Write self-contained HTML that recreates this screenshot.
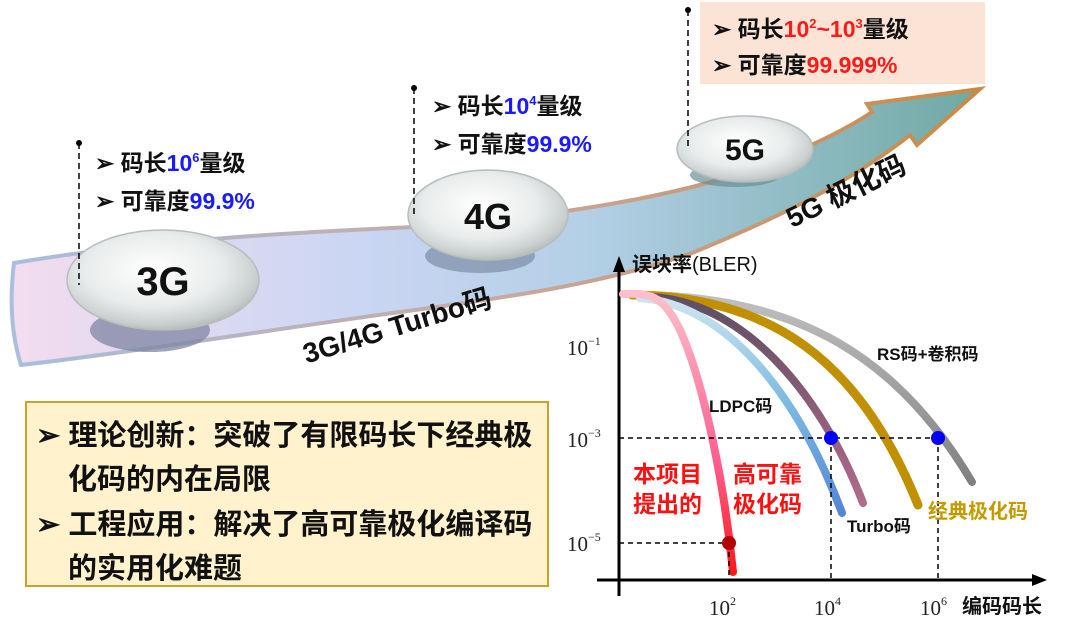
<!DOCTYPE html>
<html><head><meta charset="utf-8"><style>
html,body{margin:0;padding:0;background:#fff;}
svg{display:block;font-family:"Liberation Sans","Noto Sans CJK SC",sans-serif;}
</style></head><body>
<svg width="1080" height="633" viewBox="0 0 1080 633" xmlns="http://www.w3.org/2000/svg">
<defs>
<linearGradient id="band" x1="0" y1="0" x2="1" y2="0">
<stop offset="0" stop-color="#f3dcef"/><stop offset="0.35" stop-color="#cbd6f3"/><stop offset="0.6" stop-color="#b3cfe6"/><stop offset="1" stop-color="#6fa9a3"/>
</linearGradient>
<linearGradient id="bst" x1="0" y1="0" x2="1" y2="0">
<stop offset="0" stop-color="#a9bfdc"/><stop offset="0.5" stop-color="#c7a9a4"/><stop offset="1" stop-color="#c98a45"/>
</linearGradient>
<radialGradient id="bub" cx="0.45" cy="0.4" r="0.6">
<stop offset="0" stop-color="#ffffff"/><stop offset="0.6" stop-color="#e9ecec"/><stop offset="0.9" stop-color="#c9cfcf"/><stop offset="1" stop-color="#b8bfbf"/>
</radialGradient>
<linearGradient id="pink" x1="0" y1="0" x2="0" y2="1">
<stop offset="0" stop-color="#ffc0cb"/><stop offset="0.6" stop-color="#ff5f8f"/><stop offset="1" stop-color="#ff1a1a"/>
</linearGradient>
<linearGradient id="lb" x1="0" y1="0" x2="0" y2="1">
<stop offset="0" stop-color="#cfe6ee"/><stop offset="0.5" stop-color="#7ab9e2"/><stop offset="1" stop-color="#5585d6"/>
</linearGradient>
<linearGradient id="pu" x1="0" y1="0" x2="0" y2="1">
<stop offset="0" stop-color="#5e4f62"/><stop offset="1" stop-color="#b06a8a"/>
</linearGradient>
<linearGradient id="gr" x1="0" y1="0" x2="0" y2="1">
<stop offset="0" stop-color="#c0c0c0"/><stop offset="1" stop-color="#808080"/>
</linearGradient>
</defs>

<path d="M14,263 C150,240 300,232 415,227 C520,220 620,205 692,187 C760,170 830,140 872,112 L867,104 L980,89 L917,145 L910,135 C840,190 760,225 692,253 C600,285 500,298 415,310 C300,325 150,350 21,365 C10,330 10,295 14,263 Z" fill="url(#band)" stroke="url(#bst)" stroke-width="4"/>

<ellipse cx="150" cy="330" rx="60" ry="22" fill="#7f86a3" opacity="0.75"/>
<ellipse cx="163" cy="280" rx="96" ry="50" fill="url(#bub)" stroke="#b7bcbc" stroke-width="1.5"/>
<ellipse cx="480" cy="256" rx="55" ry="17" fill="#7e8da6" opacity="0.7"/>
<ellipse cx="488" cy="215" rx="80" ry="45" fill="url(#bub)" stroke="#b7bcbc" stroke-width="1.5"/>
<ellipse cx="735" cy="175" rx="45" ry="12" fill="#6a8f95" opacity="0.7"/>
<ellipse cx="745" cy="149" rx="68" ry="33" fill="url(#bub)" stroke="#b7bcbc" stroke-width="1.5"/>
<text x="163" y="295" font-size="40" font-weight="bold" text-anchor="middle" fill="#111">3G</text>
<text x="488" y="229" font-size="36" font-weight="bold" text-anchor="middle" fill="#111">4G</text>
<text x="745" y="160" font-size="30" font-weight="bold" text-anchor="middle" fill="#111">5G</text>

<circle cx="79" cy="143" r="3" fill="#000"/>
<line x1="79" y1="143" x2="79" y2="285" stroke="#000" stroke-width="1.5" stroke-dasharray="6,4"/>
<circle cx="414" cy="88" r="3" fill="#000"/>
<line x1="414" y1="88" x2="414" y2="215" stroke="#000" stroke-width="1.5" stroke-dasharray="6,4"/>
<circle cx="688" cy="10" r="3" fill="#000"/>
<line x1="688" y1="10" x2="688" y2="150" stroke="#000" stroke-width="1.5" stroke-dasharray="6,4"/>

<g font-size="23" font-weight="bold" fill="#111">
<text x="95" y="171">➢ 码长<tspan fill="#1a1aff">10<tspan font-size="13" dy="-9">6</tspan></tspan><tspan dy="9">量级</tspan></text>
<text x="95" y="209">➢ 可靠度<tspan fill="#1a1aff">99.9%</tspan></text>
<text x="432" y="114">➢ 码长<tspan fill="#1a1aff">10<tspan font-size="13" dy="-9">4</tspan></tspan><tspan dy="9">量级</tspan></text>
<text x="432" y="152">➢ 可靠度<tspan fill="#1a1aff">99.9%</tspan></text>
</g>
<rect x="700" y="2" width="285" height="82" fill="#fbe4d6"/>
<g font-size="23" font-weight="bold" fill="#111">
<text x="712" y="37">➢ 码长<tspan fill="#ff1a1a">10<tspan font-size="13" dy="-9">2</tspan><tspan dy="9">~10</tspan><tspan font-size="13" dy="-9">3</tspan></tspan><tspan dy="9">量级</tspan></text>
<text x="712" y="73">➢ 可靠度<tspan fill="#ff1a1a">99.999%</tspan></text>
</g>

<text transform="translate(400,335) rotate(-17)" font-size="28" font-weight="bold" text-anchor="middle" fill="#111">3G/4G Turbo码</text>
<text transform="translate(850,200) rotate(-26)" font-size="28" font-weight="bold" text-anchor="middle" fill="#111">5G 极化码</text>

<rect x="26" y="402" width="522" height="184" fill="#fff2cc" stroke="#c9a227" stroke-width="2"/>
<g font-size="29" font-weight="bold" fill="#111">
<text x="36" y="445">➢ 理论创新：突破了有限码长下经典极</text>
<text x="68" y="489">化码的内在局限</text>
<text x="36" y="534">➢ 工程应用：解决了高可靠极化编译码</text>
<text x="68" y="578">的实用化难题</text>
</g>

<line x1="619" y1="596" x2="619" y2="268" stroke="#000" stroke-width="3"/>
<polygon points="619,256 613,272 625,272" fill="#000"/>
<line x1="597" y1="580" x2="1035" y2="580" stroke="#000" stroke-width="3"/>
<polygon points="1047,580 1032,574 1032,586" fill="#000"/>
<text x="632" y="271" font-size="20" fill="#111"><tspan font-weight="bold">误块率</tspan>(BLER)</text>
<text x="1042" y="613" font-size="20" font-weight="bold" text-anchor="end" fill="#111">编码码长</text>

<g font-family="Liberation Serif,serif" font-size="21" fill="#222">
<text x="567" y="355">10<tspan font-size="12" dy="-10">−1</tspan></text>
<text x="567" y="447">10<tspan font-size="12" dy="-10">−3</tspan></text>
<text x="567" y="551">10<tspan font-size="12" dy="-10">−5</tspan></text>
<text x="709" y="615">10<tspan font-size="12" dy="-10">2</tspan></text>
<text x="814" y="615">10<tspan font-size="12" dy="-10">4</tspan></text>
<text x="920" y="615">10<tspan font-size="12" dy="-10">6</tspan></text>
</g>

<g fill="none" stroke-linecap="round">
<path d="M640,295 C800,296 900,360 972,482" stroke="url(#gr)" stroke-width="8"/>
<path d="M632,295 C770,296 860,360 918,505" stroke="#c09000" stroke-width="9"/>
<path d="M650,297 C740,300 820,390 863,503" stroke="url(#pu)" stroke-width="8"/>
<path d="M640,298 C730,305 800,400 842,513" stroke="url(#lb)" stroke-width="8"/>
<path d="M623,294 C655,292 665,300 680,330 C705,385 725,490 733,572" stroke="url(#pink)" stroke-width="8"/>
</g>

<g stroke="#000" stroke-width="1.5" stroke-dasharray="5,4">
<line x1="619" y1="438" x2="938" y2="438"/>
<line x1="831" y1="438" x2="831" y2="580"/>
<line x1="938" y1="438" x2="938" y2="580"/>
<line x1="619" y1="543" x2="729" y2="543"/>
<line x1="729" y1="543" x2="729" y2="580"/>
</g>
<circle cx="831" cy="438" r="7" fill="#0000ff"/>
<circle cx="938" cy="438" r="7" fill="#0000ff"/>
<circle cx="729" cy="543" r="7" fill="#b00000"/>

<g font-size="17" font-weight="bold" fill="#111">
<text x="877" y="360">RS码+卷积码</text>
<text x="709" y="412">LDPC码</text>
<text x="847" y="532">Turbo码</text>
</g>
<text x="928" y="518" font-size="20" font-weight="bold" fill="#c49a00">经典极化码</text>
<g font-size="23" font-weight="bold" fill="#ff1010">
<text x="633" y="482">本项目</text>
<text x="633" y="512">提出的</text>
<text x="733" y="482">高可靠</text>
<text x="733" y="512">极化码</text>
</g>
</svg>
</body></html>
